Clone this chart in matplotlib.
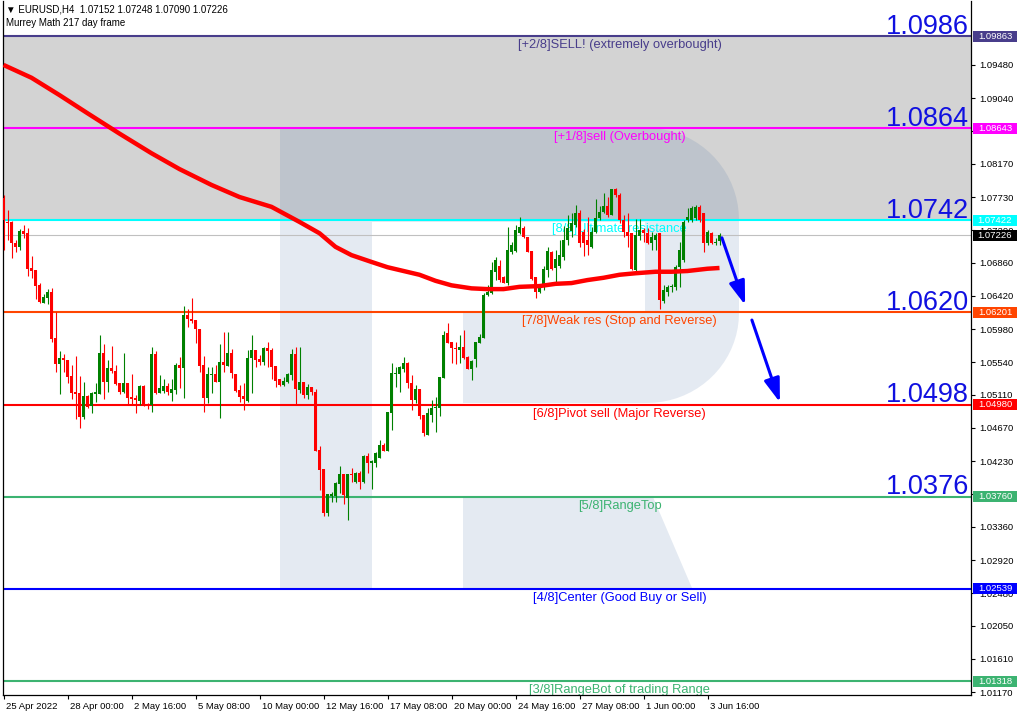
import matplotlib
matplotlib.use("Agg")
import matplotlib.pyplot as plt
import numpy as np
from matplotlib import transforms
from matplotlib.patches import Polygon, Rectangle

plt.rcParams['font.family'] = ['Liberation Sans', 'DejaVu Sans']

# EURUSD H4 candles, one row per bar
opens = [1.0772, 1.0740, 1.0740, 1.0712, 1.0707, 1.0728, 1.0725, 1.0679, 1.0676, 1.0656,
         1.0633, 1.0639, 1.0647, 1.0586, 1.0552, 1.0560, 1.0557, 1.0536, 1.0515, 1.0513,
         1.0482, 1.0509, 1.0496, 1.0512, 1.0512, 1.0566, 1.0528, 1.0546, 1.0542, 1.0527,
         1.0515, 1.0527, 1.0508, 1.0507, 1.0503, 1.0523, 1.0499, 1.0497, 1.0565, 1.0513,
         1.0516, 1.0523, 1.0513, 1.0517, 1.0550, 1.0546, 1.0617, 1.0611, 1.0610, 1.0598,
         1.0550, 1.0507, 1.0537, 1.0538, 1.0528, 1.0554, 1.0549, 1.0566, 1.0538, 1.0517,
         1.0509, 1.0503, 1.0560, 1.0570, 1.0558, 1.0554, 1.0573, 1.0570, 1.0549, 1.0532,
         1.0524, 1.0528, 1.0537, 1.0565, 1.0517, 1.0528, 1.0511, 1.0521, 1.0515, 1.0438,
         1.0413, 1.0354, 1.0377, 1.0377, 1.0393, 1.0406, 1.0374, 1.0406, 1.0395, 1.0407,
         1.0395, 1.0430, 1.0421, 1.0421, 1.0427, 1.0444, 1.0436, 1.0487, 1.0538, 1.0538,
         1.0545, 1.0553, 1.0527, 1.0504, 1.0519, 1.0484, 1.0458, 1.0484, 1.0493, 1.0493,
         1.0533, 1.0593, 1.0581, 1.0573, 1.0570, 1.0574, 1.0561, 1.0545, 1.0558, 1.0580,
         1.0586, 1.0643, 1.0646, 1.0674, 1.0682, 1.0667, 1.0659, 1.0700, 1.0701, 1.0725,
         1.0732, 1.0720, 1.0701, 1.0667, 1.0647, 1.0654, 1.0676, 1.0700, 1.0679, 1.0682,
         1.0694, 1.0716, 1.0728, 1.0736, 1.0752, 1.0727, 1.0716, 1.0707, 1.0727, 1.0745,
         1.0753, 1.0761, 1.0749, 1.0784, 1.0776, 1.0743, 1.0727, 1.0725, 1.0676, 1.0721,
         1.0729, 1.0725, 1.0712, 1.0716, 1.0725, 1.0635, 1.0647, 1.0654, 1.0654, 1.0680,
         1.0690, 1.0743, 1.0743, 1.0745, 1.0760, 1.0752, 1.0712, 1.0725, 1.0712, 1.07152]
highs = [1.0776, 1.0756, 1.0741, 1.0716, 1.0731, 1.0736, 1.0732, 1.0695, 1.0676, 1.0659,
         1.0644, 1.0651, 1.0652, 1.0621, 1.0569, 1.0565, 1.0557, 1.0550, 1.0562, 1.0536,
         1.0528, 1.0511, 1.0515, 1.0527, 1.0590, 1.0578, 1.0557, 1.0576, 1.0550, 1.0527,
         1.0566, 1.0527, 1.0538, 1.0511, 1.0524, 1.0524, 1.0500, 1.0574, 1.0569, 1.0537,
         1.0532, 1.0527, 1.0532, 1.0553, 1.0561, 1.0629, 1.0625, 1.0639, 1.0610, 1.0598,
         1.0562, 1.0548, 1.0548, 1.0550, 1.0578, 1.0594, 1.0594, 1.0572, 1.0538, 1.0524,
         1.0527, 1.0570, 1.0590, 1.0570, 1.0564, 1.0574, 1.0581, 1.0573, 1.0549, 1.0532,
         1.0534, 1.0540, 1.0572, 1.0574, 1.0574, 1.0528, 1.0525, 1.0521, 1.0519, 1.0443,
         1.0413, 1.0379, 1.0382, 1.0395, 1.0417, 1.0406, 1.0406, 1.0414, 1.0409, 1.0410,
         1.0431, 1.0434, 1.0425, 1.0435, 1.0451, 1.0447, 1.0488, 1.0553, 1.0548, 1.0549,
         1.0561, 1.0554, 1.0537, 1.0524, 1.0519, 1.0484, 1.0493, 1.0504, 1.0508, 1.0534,
         1.0595, 1.0606, 1.0581, 1.0581, 1.0590, 1.0597, 1.0562, 1.0557, 1.0581, 1.0591,
         1.0646, 1.0656, 1.0687, 1.0693, 1.0690, 1.0668, 1.0733, 1.0713, 1.0736, 1.0746,
         1.0735, 1.0720, 1.0701, 1.0667, 1.0656, 1.0682, 1.0707, 1.0701, 1.0703, 1.0716,
         1.0735, 1.0749, 1.0752, 1.0762, 1.0756, 1.0731, 1.0747, 1.0733, 1.0770, 1.0761,
         1.0778, 1.0773, 1.0784, 1.0785, 1.0778, 1.0749, 1.0752, 1.0725, 1.0744, 1.0744,
         1.0732, 1.0732, 1.0727, 1.0725, 1.0725, 1.0656, 1.0656, 1.0658, 1.0683, 1.0713,
         1.0743, 1.0758, 1.0761, 1.0762, 1.0762, 1.0752, 1.0729, 1.0727, 1.0719, 1.07248]
lows = [1.0703, 1.0716, 1.0692, 1.0700, 1.0703, 1.0719, 1.0668, 1.0666, 1.0638, 1.0633,
        1.0633, 1.0631, 1.0581, 1.0541, 1.0512, 1.0541, 1.0527, 1.0505, 1.0479, 1.0467,
        1.0479, 1.0493, 1.0487, 1.0501, 1.0512, 1.0505, 1.0515, 1.0540, 1.0524, 1.0512,
        1.0513, 1.0499, 1.0499, 1.0487, 1.0497, 1.0496, 1.0492, 1.0488, 1.0512, 1.0513,
        1.0513, 1.0511, 1.0503, 1.0512, 1.0520, 1.0507, 1.0601, 1.0606, 1.0580, 1.0541,
        1.0488, 1.0500, 1.0513, 1.0528, 1.0480, 1.0541, 1.0549, 1.0533, 1.0515, 1.0501,
        1.0491, 1.0501, 1.0513, 1.0548, 1.0550, 1.0550, 1.0548, 1.0532, 1.0521, 1.0523,
        1.0523, 1.0527, 1.0531, 1.0497, 1.0513, 1.0507, 1.0505, 1.0511, 1.0436, 1.0385,
        1.0350, 1.0350, 1.0369, 1.0369, 1.0381, 1.0366, 1.0345, 1.0395, 1.0394, 1.0386,
        1.0394, 1.0407, 1.0386, 1.0415, 1.0427, 1.0436, 1.0436, 1.0464, 1.0521, 1.0515,
        1.0541, 1.0520, 1.0491, 1.0500, 1.0479, 1.0456, 1.0458, 1.0475, 1.0462, 1.0483,
        1.0533, 1.0580, 1.0553, 1.0552, 1.0553, 1.0558, 1.0545, 1.0531, 1.0548, 1.0580,
        1.0586, 1.0642, 1.0645, 1.0663, 1.0660, 1.0659, 1.0656, 1.0697, 1.0700, 1.0724,
        1.0719, 1.0700, 1.0663, 1.0639, 1.0646, 1.0650, 1.0667, 1.0676, 1.0660, 1.0679,
        1.0690, 1.0709, 1.0720, 1.0733, 1.0707, 1.0695, 1.0696, 1.0705, 1.0725, 1.0743,
        1.0752, 1.0747, 1.0749, 1.0773, 1.0739, 1.0720, 1.0707, 1.0676, 1.0675, 1.0716,
        1.0713, 1.0711, 1.0703, 1.0703, 1.0625, 1.0633, 1.0642, 1.0647, 1.0650, 1.0654,
        1.0687, 1.0740, 1.0740, 1.0743, 1.0740, 1.0700, 1.0709, 1.0711, 1.0709, 1.07090]
closes = [1.0743, 1.0739, 1.0712, 1.0707, 1.0728, 1.0724, 1.0678, 1.0675, 1.0655, 1.0634,
          1.0641, 1.0647, 1.0585, 1.0552, 1.0560, 1.0557, 1.0535, 1.0513, 1.0512, 1.0482,
          1.0509, 1.0495, 1.0513, 1.0515, 1.0566, 1.0528, 1.0546, 1.0542, 1.0525, 1.0515,
          1.0527, 1.0507, 1.0505, 1.0504, 1.0523, 1.0496, 1.0496, 1.0565, 1.0513, 1.0520,
          1.0523, 1.0515, 1.0519, 1.0550, 1.0546, 1.0617, 1.0611, 1.0609, 1.0598, 1.0549,
          1.0507, 1.0538, 1.0538, 1.0528, 1.0554, 1.0550, 1.0566, 1.0540, 1.0516, 1.0508,
          1.0505, 1.0560, 1.0570, 1.0557, 1.0554, 1.0573, 1.0569, 1.0548, 1.0529, 1.0524,
          1.0529, 1.0538, 1.0565, 1.0519, 1.0528, 1.0511, 1.0521, 1.0515, 1.0436, 1.0411,
          1.0354, 1.0379, 1.0379, 1.0394, 1.0406, 1.0378, 1.0406, 1.0405, 1.0407, 1.0395,
          1.0430, 1.0421, 1.0423, 1.0434, 1.0444, 1.0436, 1.0488, 1.0540, 1.0540, 1.0548,
          1.0553, 1.0527, 1.0504, 1.0519, 1.0483, 1.0460, 1.0487, 1.0493, 1.0495, 1.0534,
          1.0590, 1.0580, 1.0573, 1.0572, 1.0574, 1.0560, 1.0545, 1.0556, 1.0581, 1.0587,
          1.0643, 1.0647, 1.0676, 1.0690, 1.0663, 1.0659, 1.0703, 1.0709, 1.0729, 1.0733,
          1.0720, 1.0700, 1.0664, 1.0647, 1.0655, 1.0678, 1.0701, 1.0678, 1.0691, 1.0696,
          1.0716, 1.0732, 1.0739, 1.0752, 1.0712, 1.0712, 1.0709, 1.0727, 1.0745, 1.0753,
          1.0761, 1.0749, 1.0784, 1.0776, 1.0743, 1.0727, 1.0721, 1.0678, 1.0723, 1.0729,
          1.0725, 1.0712, 1.0720, 1.0723, 1.0637, 1.0650, 1.0654, 1.0655, 1.0680, 1.0703,
          1.0740, 1.0747, 1.0758, 1.0760, 1.0743, 1.0712, 1.0727, 1.0712, 1.0713, 1.07226]

# 217 period moving average, read at some bars
ma_bars = [0, 7, 14, 21, 29, 37, 44, 52, 59, 67, 74, 79, 83, 87, 92, 96, 100, 104, 108,
           112, 117, 121, 125, 129, 134, 138, 142, 146, 150, 154, 158, 163, 167, 171, 176, 179]
ma_values = [1.0948, 1.0931, 1.0908, 1.0884, 1.0857, 1.0831, 1.0810, 1.0789, 1.0773, 1.0760,
             1.0740, 1.0725, 1.0707, 1.0696, 1.0687, 1.0680, 1.0675, 1.0670, 1.0662,
             1.0656, 1.0652, 1.0651, 1.0651, 1.0654, 1.0655, 1.0658, 1.0659, 1.0663, 1.0666,
             1.0670, 1.0672, 1.0674, 1.0674, 1.0675, 1.0678, 1.0679]

# Murrey Math levels
level_prices = [1.09863, 1.08643, 1.07422, 1.06201, 1.04980, 1.03760, 1.02539, 1.01318]
level_names = ["[+2/8]SELL! (extremely overbought)", "[+1/8]sell (Overbought)",
               "[8/8]Ultimate resistance", "[7/8]Weak res (Stop and Reverse)",
               "[6/8]Pivot sell (Major Reverse)", "[5/8]RangeTop",
               "[4/8]Center (Good Buy or Sell)", "[3/8]RangeBot of trading Range"]
level_colors = ["#483d8b", "#ff00ff", "#00ffff", "#ff4500", "#ff0000", "#3cb371",
                "#0000ff", "#3cb371"]
big_labels = ["1.0986", "1.0864", "1.0742", "1.0620", "1.0498", "1.0376"]

last_price = 1.07226
price_ticks = [1.09480, 1.09040, 1.08610, 1.08170, 1.07730, 1.07290, 1.06860, 1.06420,
               1.05980, 1.05540, 1.05110, 1.04670, 1.04230, 1.03800, 1.03360, 1.02920,
               1.02480, 1.02050, 1.01610, 1.01170]

date_bars = [0, 16, 32, 48, 64, 80, 96, 112, 128, 144, 160, 176]
date_labels = ["25 Apr 2022", "28 Apr 00:00", "2 May 16:00", "5 May 08:00", "10 May 00:00",
               "12 May 16:00", "17 May 08:00", "20 May 00:00", "24 May 16:00",
               "27 May 08:00", "1 Jun 00:00", "3 Jun 16:00"]

# forecast arrows (bar, price) -> (bar, price)
arrow_from = [(179.6, 1.0719), (187.1, 1.0610)]
arrow_to = [(185.4, 1.0630), (194.1, 1.0501)]

W, H = 1018, 717
fig = plt.figure(figsize=(W / 100, H / 100), dpi=100)
left_px, right_px, top_px, bot_px = 3, 971, 1, 695
ax = fig.add_axes([left_px / W, 1 - bot_px / H, (right_px - left_px) / W, (bot_px - top_px) / H])

px_per_bar = 4.0
xmin = -0.5 / px_per_bar
ax.set_xlim(xmin, xmin + (right_px - left_px) / px_per_bar)
ymax_price = 1.10327
ymin_price = 1.011326
ax.set_ylim(ymin_price, ymax_price)
py = (ymax_price - ymin_price) / (bot_px - top_px)  # price per pixel

# overbought zone
ax.axhspan(level_prices[2], level_prices[0], color="#d3d3d3", lw=0, zorder=0)


# watermark "R", drawn in pixel coordinates of the screenshot
def to_axes(pts):
    return [((x - left_px) / (right_px - left_px), (bot_px - y) / (bot_px - top_px)) for x, y in pts]


bowl = [(280, 128), (647, 128)]
for a in np.linspace(-90, 0, 20):
    bowl.append((647 + 92 * np.cos(np.radians(a)), 220 + 92 * np.sin(np.radians(a))))
for a in np.linspace(0, 90, 20):
    bowl.append((647 + 92 * np.cos(np.radians(a)), 313 + 90 * np.sin(np.radians(a))))
bowl += [(463, 403), (463, 313), (645, 313), (645, 222), (372, 222), (372, 588), (280, 588)]
leg = [(463, 497), (653, 497), (692, 588), (463, 588)]
for shape in (bowl, leg):
    ax.add_patch(Polygon(to_axes(shape), closed=True, transform=ax.transAxes,
                         facecolor=(56 / 255, 100 / 255, 160 / 255), alpha=0.135, lw=0, zorder=0.5))

# level lines and their labels
for price, name, col in zip(level_prices, level_names, level_colors):
    ax.axhline(price, color=col, lw=1.5, zorder=2)
    ax.text(154, price - 3 * py, name, color=col, fontsize=9.3, ha="center", va="top", zorder=2.2)

trans_ax_data = transforms.blended_transform_factory(ax.transAxes, ax.transData)
for price, lab in zip(level_prices, big_labels):
    ax.text(0.998, price + 2.5 * py, lab, color="#1010e0", fontsize=19.5, ha="right",
            va="baseline", transform=trans_ax_data, zorder=2.3)

ax.axhline(last_price, color="#c0c0c0", lw=0.8, zorder=1.5)

# candles
x = np.arange(len(opens))
o = np.array(opens)
c = np.array(closes)
h = np.array(highs)
lo = np.array(lows)
up = c >= o
cols = np.where(up, "#008000", "#ff0000")
ax.vlines(x, lo, h, colors=cols, lw=0.8, zorder=3)
body_h = np.maximum(np.abs(c - o), py)
ax.bar(x, body_h, bottom=np.minimum(o, c), width=0.75, color=cols, lw=0, zorder=3.1)

# moving average
ax.plot(ma_bars, ma_values, color="#ff0000", lw=3.2, solid_capstyle="butt", zorder=4)

# forecast arrows
for (x0, y0), (x1, y1) in zip(arrow_from, arrow_to):
    ax.annotate("", xy=(x1, y1), xytext=(x0, y0),
                arrowprops=dict(arrowstyle="-|>,head_length=0.9,head_width=0.3", color="#0000ff",
                                lw=2.2, mutation_scale=16, shrinkA=0, shrinkB=0), zorder=5)

# axes styling
for s in ("left", "right", "bottom"):
    ax.spines[s].set_color("black")
    ax.spines[s].set_linewidth(0.9)
ax.spines["top"].set_visible(False)

ax.yaxis.tick_right()
ax.set_yticks(price_ticks)
ax.set_yticklabels([f"{v:.5f}" for v in price_ticks])
ax.tick_params(axis="y", labelsize=6.8, length=3, width=0.8, pad=3)

ax.set_xticks(date_bars)
ax.set_xticklabels(date_labels)
ax.tick_params(axis="x", labelsize=6.8, length=3, width=0.8, pad=2)
shift = transforms.ScaledTranslation(2 / 72, 0, fig.dpi_scale_trans)
for lab in ax.get_xticklabels():
    lab.set_horizontalalignment("left")
    lab.set_transform(lab.get_transform() + shift)

# price boxes on the right scale
box_prices = level_prices + [last_price]
box_colors = level_colors + ["#000000"]
trans_fig_data = transforms.blended_transform_factory(fig.transFigure, ax.transData)
bx0, bx1 = 973 / W, 1017 / W
for price, col in zip(box_prices, box_colors):
    ax.add_patch(Rectangle((bx0, price - 5.5 * py), bx1 - bx0, 11 * py, transform=trans_fig_data,
                           facecolor=col, edgecolor="none", clip_on=False, zorder=10))
    ax.text((bx0 + bx1) / 2, price, f"{price:.5f}", color="white", fontsize=6.8, ha="center",
            va="center", transform=trans_fig_data, clip_on=False, zorder=11)

# header
fig.text(6 / W, 1 - 10 / H, "\u25bc EURUSD,H4  1.07152 1.07248 1.07090 1.07226", fontsize=7,
         va="center", ha="left")
fig.text(6 / W, 1 - 23 / H, "Murrey Math 217 day frame", fontsize=7, va="center", ha="left")

fig.savefig("out.png", dpi=100, facecolor="white")
